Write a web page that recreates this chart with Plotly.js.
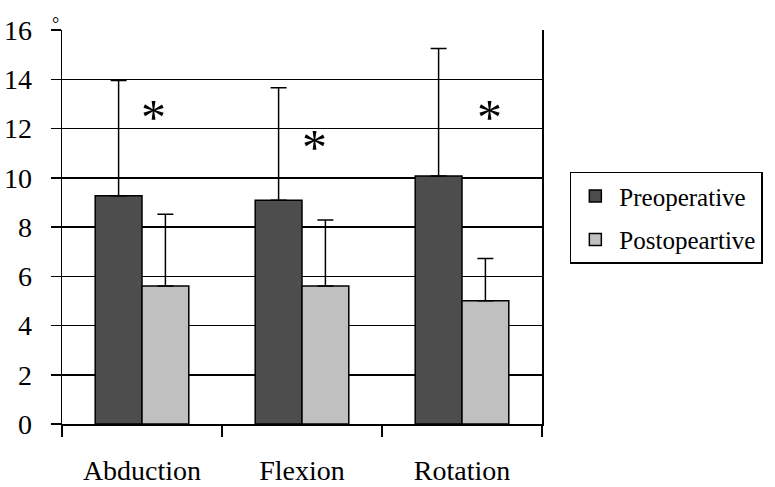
<!DOCTYPE html>
<html>
<head>
<meta charset="utf-8">
<script src="https://cdn.plot.ly/plotly-3.0.1.min.js"></script>
<style>html,body{margin:0;padding:0;background:#fff;}#chart{width:775px;height:487px;}
#chart text { font-family: "Liberation Serif", serif !important; }</style>
</head>
<body>
<div id="chart"></div>
<script>
var categories = ["Abduction", "Flexion", "Rotation"];
var seriesNames = ["Preoperative", "Postopeartive"];
var preValues = [9.27, 9.09, 10.07];
var preSD = [4.68, 4.56, 5.18];
var postValues = [5.6, 5.6, 5.01];
var postSD = [2.92, 2.68, 1.71];
var yTicks = [0, 2, 4, 6, 8, 10, 12, 14, 16];
var starX = [0.07, 1.08, 2.17];
var starY = [12.66, 11.44, 12.69];

var FONT = "Liberation Serif";
var zeros = categories.map(function(){return 0;});

var traces = [
  {
    type: "bar", name: seriesNames[0], x: categories, y: preValues,
    legendgroup: "a",
    marker: {color: "#4d4d4d", line: {color: "#000", width: 1.5}},
    error_y: {type: "data", symmetric: false, array: preSD, arrayminus: zeros,
              color: "#000", thickness: 1.5, width: 8}
  },
  {
    type: "bar", name: seriesNames[1], x: categories, y: postValues,
    legendgroup: "b",
    marker: {color: "#c0c0c0", line: {color: "#000", width: 1.5}},
    error_y: {type: "data", symmetric: false, array: postSD, arrayminus: zeros,
              color: "#000", thickness: 1.5, width: 8}
  }
];

var annotations = starX.map(function(x, i){
  return {x: x, y: starY[i], xref: "x", yref: "y", text: "*", showarrow: false,
          font: {family: FONT, size: 50, color: "#000"}, yshift: -5};
});
annotations.push({xref: "paper", yref: "paper", x: (50-62)/482, y: (424-12)/394,
  text: "°", showarrow: false, font: {family: FONT, size: 18, color: "#000"}});

var layout = {
  width: 775, height: 487,
  margin: {l: 62, r: 231, t: 30, b: 63, pad: 0},
  paper_bgcolor: "#fff", plot_bgcolor: "#fff",
  font: {family: FONT, color: "#000"},
  barmode: "group", bargap: 0.415, bargroupgap: 0,
  showlegend: true,
  legend: {x: 1.058, xanchor: "left", y: 0.64, yanchor: "top",
           bordercolor: "#000", borderwidth: 1.5, bgcolor: "#fff",
           font: {family: FONT, size: 25, color: "#000"},
           itemwidth: 38,
           traceorder: "grouped", tracegroupgap: 8},
  xaxis: {
    type: "category", showline: true, linecolor: "#000", linewidth: 1.5,
    ticks: "outside", tickson: "boundaries", ticklen: 11, tickwidth: 1.5, tickcolor: "#000",
    showgrid: false, zeroline: false, ticklabelstandoff: 21,
    tickfont: {family: FONT, size: 28, color: "#000"}
  },
  yaxis: {
    range: [0, 16], tickvals: yTicks, ticktext: yTicks.map(String),
    showline: true, mirror: true, linecolor: "#000", linewidth: 1.5,
    ticks: "outside", ticklen: 10, tickwidth: 1.5, tickcolor: "#000",
    showgrid: true, gridcolor: "#000", gridwidth: 1.5, zeroline: false,
    ticklabelstandoff: 13,
    tickfont: {family: FONT, size: 28, color: "#000"}
  },
  annotations: annotations
};

Plotly.newPlot("chart", traces, layout, {displayModeBar: false, staticPlot: true});
</script>
</body>
</html>
